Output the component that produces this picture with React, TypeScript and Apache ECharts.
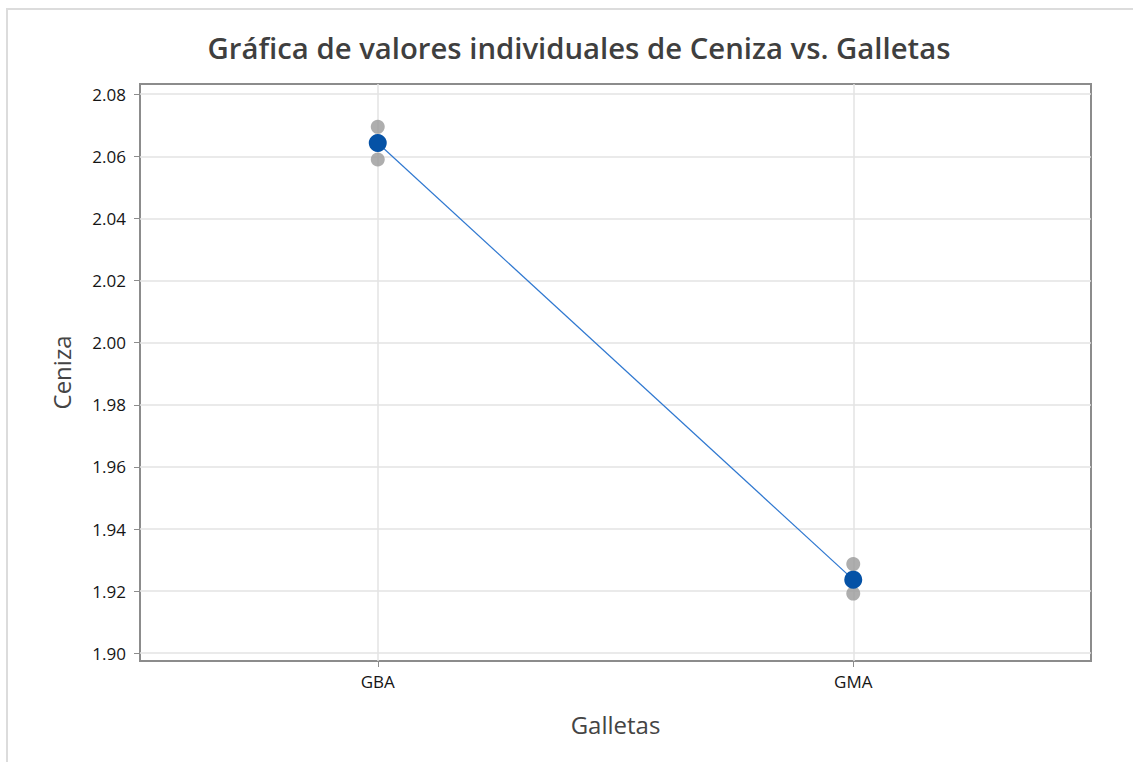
import React, { useEffect, useRef } from "react";
import * as echarts from "echarts";

const categories = ["GBA", "GMA"];
const individualGBA = [2.0695, 2.059];
const individualGMA = [1.9287, 1.9192];
const means = [2.0643, 1.9237];
const yTicks = [1.9, 1.92, 1.94, 1.96, 1.98, 2.0, 2.02, 2.04, 2.06, 2.08];

const FONT = "'Open Sans', 'Noto Sans', sans-serif";

export default function App() {
  const ref = useRef<HTMLDivElement>(null);
  useEffect(() => {
    if (!ref.current) return;
    const chart = echarts.init(ref.current, undefined, { renderer: "svg" });
    const individuals = [
      ...individualGBA.map((v) => [categories[0], v]),
      ...individualGMA.map((v) => [categories[1], v]),
    ];
    chart.setOption({
      animation: false,
      backgroundColor: "#ffffff",
      textStyle: { fontFamily: FONT },
      title: {
        text: "Gráfica de valores individuales de Ceniza vs. Galletas",
        left: 574,
        top: 28,
        textAlign: "center",
        textStyle: { fontSize: 29.3, fontWeight: 600, color: "#3f3f3f", fontFamily: FONT },
      },
      graphic: [
        {
          type: "rect",
          shape: { x: 7, y: 9, width: 1200, height: 900 },
          style: { fill: "none", stroke: "#dcdcdc", lineWidth: 2 },
          silent: true,
          z: -10,
        },
      ],
      grid: {
        left: 140,
        top: 84,
        width: 951,
        height: 577,
        show: true,
        borderColor: "#8c8c8c",
        borderWidth: 2,
        containLabel: false,
      },
      xAxis: {
        type: "category",
        data: categories,
        boundaryGap: true,
        name: "Galletas",
        nameLocation: "middle",
        nameGap: 51,
        nameTextStyle: { fontSize: 24, color: "#444444", fontFamily: FONT },
        axisLine: { show: false },
        axisTick: { show: true, alignWithLabel: true, length: 6, lineStyle: { color: "#8c8c8c" } },
        axisLabel: { fontSize: 17, color: "#151515", margin: 12, fontFamily: FONT },
        splitLine: { show: false },
      },
      yAxis: {
        type: "value",
        min: 1.8975,
        max: 2.0833,
        name: "Ceniza",
        nameLocation: "middle",
        nameGap: 67,
        nameTextStyle: { fontSize: 24, color: "#444444", fontFamily: FONT },
        axisLine: { show: false },
        axisTick: {
          show: true,
          length: 6,
          customValues: yTicks,
          lineStyle: { color: "#8c8c8c" },
        },
        axisLabel: {
          fontSize: 17,
          color: "#151515",
          margin: 14,
          customValues: yTicks,
          formatter: (v: number) => v.toFixed(2),
          fontFamily: FONT,
        },
        splitLine: { show: true, lineStyle: { color: "#e3e3e3", width: 1.5 } },
      },
      series: [
        {
          type: "line",
          data: [],
          silent: true,
          markLine: {
            silent: true,
            symbol: "none",
            z: 0,
            label: { show: false },
            lineStyle: { color: "#e3e3e3", type: "solid", width: 1.5 },
            data: categories.map((c) => ({ xAxis: c })),
          },
        },
        {
          type: "scatter",
          data: individuals,
          symbol: "circle",
          symbolSize: 14,
          itemStyle: { color: "#9a9a9a" },
          z: 2,
        },
        {
          type: "line",
          data: means,
          symbol: "circle",
          symbolSize: 18,
          lineStyle: { color: "#2f78d0", width: 1.2 },
          itemStyle: { color: "#0552a6" },
          z: 3,
        },
      ],
    });
    return () => chart.dispose();
  }, []);
  return (
    <div
      ref={ref}
      style={{ position: "absolute", left: 0, top: 0, width: 1133, height: 762 }}
    />
  );
}
